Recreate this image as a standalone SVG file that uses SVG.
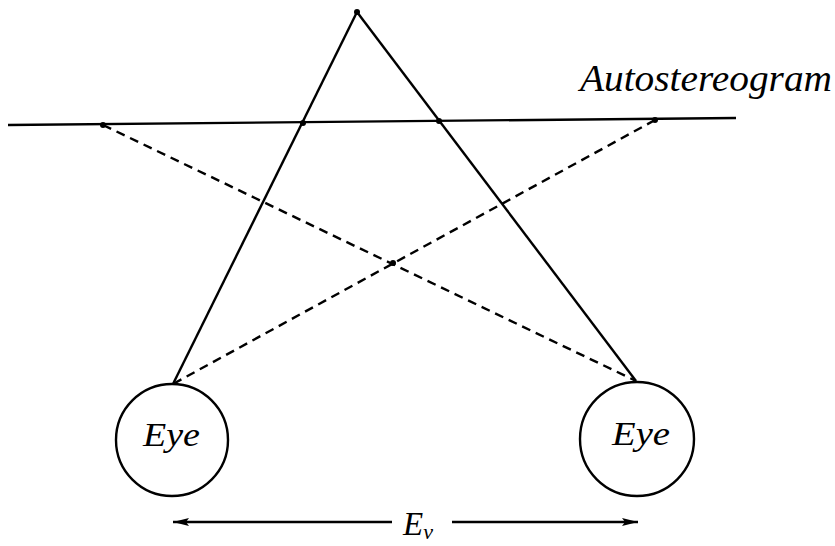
<svg xmlns="http://www.w3.org/2000/svg" width="835" height="546" viewBox="0 0 835 546">
<style>
.ln{stroke:#000;stroke-width:2.4;fill:none}
.dash{stroke:#000;stroke-width:2.4;fill:none;stroke-dasharray:9 6}
.dot{fill:#000}
.t{font-family:"Liberation Serif","DejaVu Serif",serif;font-style:italic;fill:#000}
</style>
<defs>
<marker id="ah" viewBox="0 0 16 8" refX="16" refY="4" markerWidth="16" markerHeight="8" markerUnits="userSpaceOnUse" orient="auto">
<path d="M0,0 L16,4 L0,8 L3,4 Z" fill="#000"/>
</marker>
</defs>
<rect width="835" height="546" fill="#fff"/>
<g id="connectors">
<line class="ln" x1="8" y1="125" x2="736" y2="118"/>
<line class="ln" x1="357" y1="12" x2="173" y2="384"/>
<line class="ln" x1="357" y1="12" x2="636" y2="381"/>
<line class="dash" x1="103" y1="125" x2="636" y2="381"/>
<line class="dash" x1="655" y1="120" x2="173" y2="384"/>
<line class="ln" x1="392" y1="522" x2="173" y2="522" marker-end="url(#ah)"/>
<line class="ln" x1="452" y1="522" x2="638" y2="522" marker-end="url(#ah)"/>
</g>
<g id="points">
<circle class="dot" cx="357" cy="12" r="3"/>
<circle class="dot" cx="103" cy="125" r="3"/>
<circle class="dot" cx="303" cy="123" r="3"/>
<circle class="dot" cx="439" cy="121" r="3"/>
<circle class="dot" cx="655" cy="120" r="3"/>
<circle class="dot" cx="393" cy="263" r="3"/>
</g>
<g id="label-autostereogram">
<text class="t" x="580" y="91" font-size="37" textLength="252" lengthAdjust="spacingAndGlyphs">Autostereogram</text>
</g>
<g id="left-eye">
<circle class="ln" cx="172" cy="440" r="56"/>
<text class="t" x="143" y="446" font-size="33" textLength="57" lengthAdjust="spacingAndGlyphs">Eye</text>
</g>
<g id="right-eye">
<circle class="ln" cx="637" cy="439" r="57"/>
<text class="t" x="612" y="445" font-size="33" textLength="58" lengthAdjust="spacingAndGlyphs">Eye</text>
</g>
<g id="label-ev">
<text class="t" x="403" y="535" font-size="33">E<tspan font-size="22" dy="4">v</tspan></text>
</g>
</svg>
